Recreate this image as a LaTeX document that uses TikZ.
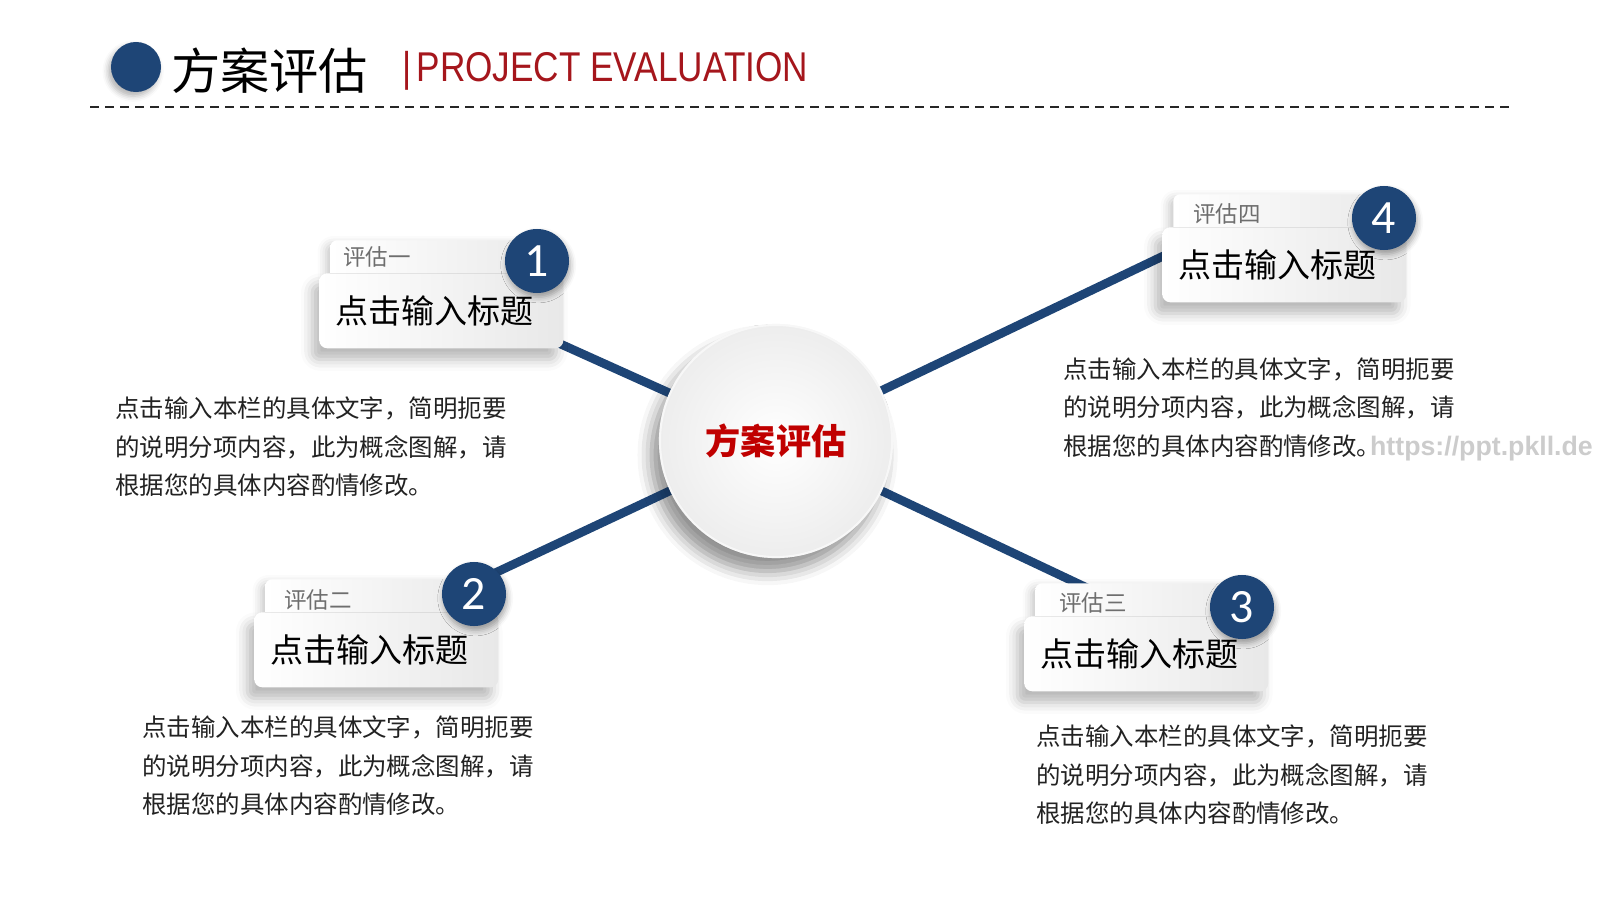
\documentclass[tikz,border=0pt]{standalone}
\usepackage{fontspec}
\setmainfont{Noto Sans CJK SC}
\newfontfamily\digitfont{Carlito}
\newfontfamily\webfont{Liberation Sans}
\newfontfamily\narrowfont[FakeStretch=0.845]{Liberation Sans}
\usetikzlibrary{positioning, shadows.blur}
\definecolor{navy}{RGB}{30,69,118}
\definecolor{hubred}{RGB}{192,0,0}
\definecolor{darkred}{RGB}{165,22,28}
\definecolor{labelgray}{RGB}{110,110,110}
\definecolor{bodytext}{RGB}{34,34,34}
\tikzset{
  hub/.style = {circle, minimum size=5.8cm, shading=radial, inner color=white, outer color=gray!14, draw=gray!6, line width=1.5pt, blur shadow={shadow xshift=-6pt, shadow yshift=-10pt, shadow blur radius=10pt, shadow opacity=25}, text=hubred, font=\fontsize{25}{25}\selectfont\bfseries},
  tab/.style = {rectangle, rounded corners=5pt, minimum width=5.475cm, minimum height=1.2cm, left color=white, right color=gray!17, anchor=north west, blur shadow={shadow xshift=-3pt, shadow yshift=-3pt, shadow blur radius=6pt, shadow opacity=22}},
  card/.style = {rectangle, rounded corners=5.7pt, minimum height=1.875cm, text width=5.3cm, inner xsep=0.4cm, align=left, left color=white, right color=gray!18, anchor=north west, blur shadow={shadow xshift=-5pt, shadow yshift=-8pt, shadow blur radius=8pt, shadow opacity=28}, font=\fontsize{23.5}{23.5}\selectfont},
  tag/.style = {anchor=west, inner sep=0pt, text=labelgray, font=\fontsize{16}{16}\selectfont},
  badge/.style = {circle, fill=navy, minimum size=1.6cm, inner sep=0pt, text=white, font=\digitfont\fontsize{34}{34}\selectfont, blur shadow={shadow xshift=1pt, shadow yshift=-3pt, shadow blur radius=4pt, shadow opacity=35}},
  spoke/.style = {navy, line width=6.2pt},
  note/.style = {anchor=west, inner sep=0pt, align=left, text=bodytext, font=\fontsize{17.4}{27.4}\selectfont}
}
\begin{document}
\begin{tikzpicture}[x=0.025cm, y=-0.025cm]
  \useasboundingbox (0,0) rectangle (1600,900);

  % header
  \node (dot) [circle, fill=navy, minimum size=1.25cm, blur shadow={shadow xshift=-2pt, shadow yshift=-3pt, shadow blur radius=4pt, shadow opacity=30}] at (136,67) {};
  \node (head) [anchor=west, inner sep=0pt, font=\fontsize{35}{35}\selectfont] at (171,71) {方案评估};
  \node (sub) [anchor=west, inner sep=0pt, text=darkred, font=\narrowfont\fontsize{29.6}{29.6}\selectfont] at (402,71) {|\kern 0.13cm PROJECT EVALUATION};
  \draw [gray!30!black, line width=1.4pt, dash pattern=on 0.225cm off 0.15cm] (90,107) -- (1510,107);

  % spokes
  \node (c) [hub] at (776,441) {};
  \coordinate (e1) at (545,337);
  \coordinate (e2) at (480,580);
  \coordinate (e3) at (1100,594);
  \coordinate (e4) at (1180,248);
  \draw [spoke] (c.center) -- (e1);
  \draw [spoke] (c.center) -- (e2);
  \draw [spoke] (c.center) -- (e3);
  \draw [spoke] (c.center) -- (e4);
  \node (hubtext) [hub] at (776,441) {方案评估};

  % cards
  \node (t1) [tab] at (330,240) {};
  \node (t2) [tab] at (265,579) {};
  \node (t3) [tab] at (1035,583) {};
  \node (t4) [tab] at (1173,194) {};
  \node (m1) [card] at (319,273) {点击输入标题};
  \node (m2) [card] at (254,612) {点击输入标题};
  \node (m3) [card] at (1024,616) {点击输入标题};
  \node (m4) [card] at (1162,227) {点击输入标题};
  \node (l1) [tag] at (343,257) {评估一};
  \node (l2) [tag] at (284,600) {评估二};
  \node (l3) [tag] at (1059,603) {评估三};
  \node (l4) [tag] at (1193,214) {评估四};
  \node (b1) [badge] at (537,261) {1};
  \node (b2) [badge] at (474,594) {2};
  \node (b3) [badge] at (1242,607) {3};
  \node (b4) [badge] at (1384,218) {4};

  % notes
  \node (n1) [note] at (115,447) {点击输入本栏的具体文字，简明扼要\\的说明分项内容，此为概念图解，请\\根据您的具体内容酌情修改。};
  \node (n2) [note] at (142,766) {点击输入本栏的具体文字，简明扼要\\的说明分项内容，此为概念图解，请\\根据您的具体内容酌情修改。};
  \node (n3) [note] at (1036,775) {点击输入本栏的具体文字，简明扼要\\的说明分项内容，此为概念图解，请\\根据您的具体内容酌情修改。};
  \node (n4) [note] at (1063,409) {点击输入本栏的具体文字，简明扼要\\的说明分项内容，此为概念图解，请\\根据您的具体内容酌情修改。\kern -0.28cm{\webfont\bfseries\fontsize{19}{19}\selectfont\color{gray!40}https://ppt.pkll.de}};
\end{tikzpicture}
\end{document}
